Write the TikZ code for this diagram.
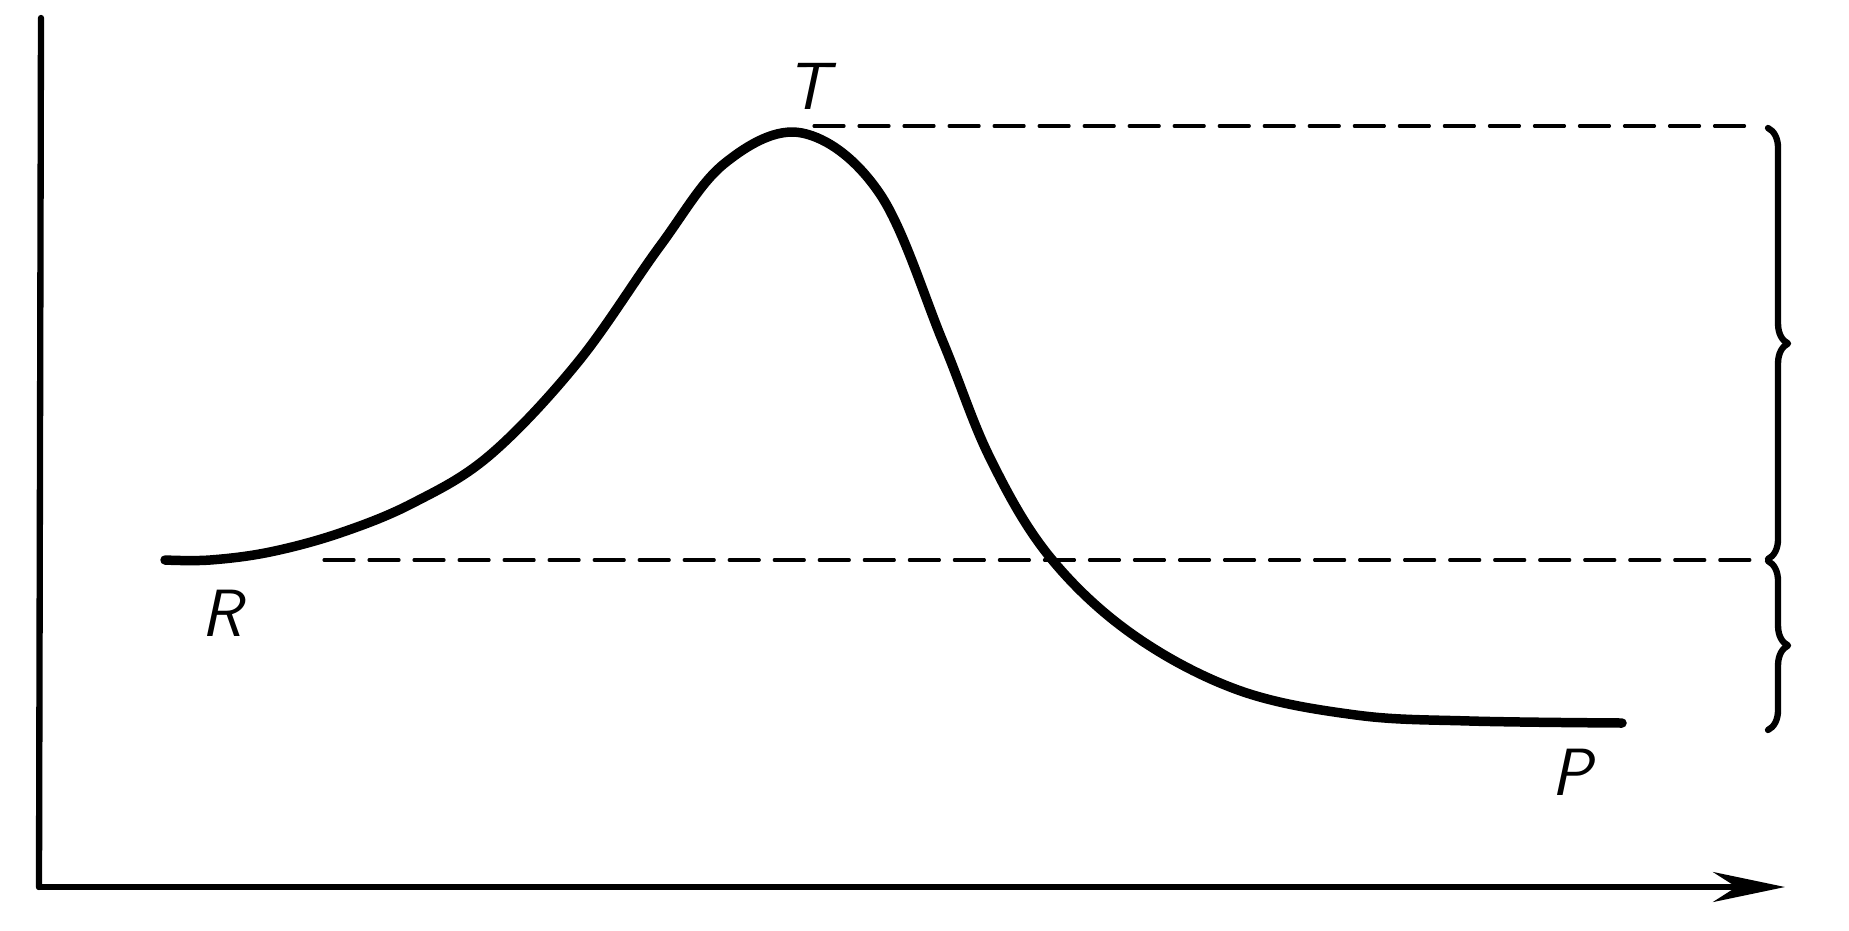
\documentclass[tikz,border=0pt]{standalone}
\usepackage{amsmath}
\usepackage{tikz}
\usetikzlibrary{arrows.meta,decorations.pathreplacing}

\tikzset{
  lbl/.style={font=\fontsize{19}{21}\selectfont\sffamily\itshape},
  enline/.style={line width=2.7pt},
  guide/.style={line width=0.9pt,dash pattern=on 0.3cm off 0.15cm},
  brc/.style={line width=1.8pt,decorate,decoration={brace,amplitude=0.2cm}}
}

\begin{document}
\begin{tikzpicture}[line cap=round,line join=round,>={Stealth[length=0.72cm,width=0.3cm]},x=0.01cm,y=-0.01cm]
\useasboundingbox (0,0) rectangle (1849,930);
% axes
\coordinate (o) at (39,887);
\coordinate (ytop) at (41,18);
\coordinate (xend) at (1785,887);
\draw [line width=1.8pt] (ytop) -- (o);
\draw [line width=1.6pt,->] (o) -- (xend);
% energy profile
\coordinate (r) at (165,560);
\coordinate (t) at (802,133);
\coordinate (p) at (1622,723);
\draw [enline] plot [smooth,tension=0.6] coordinates {(r) (210,560) (270,552) (340,533) (413,503) (490,455) (578,362) (660,246) (725,163) (t) (880,194) (943,342) (990,458) (1049,556) (1132,634) (1238,690) (1356,715) (1470,721) (p)};
\draw (222,613) node[lbl] (R) {R};
\draw (808,86) node[lbl] (T) {T};
\draw (1572,772) node[lbl] (P) {P};
% levels
\coordinate (tl) at (814,126);
\coordinate (tr) at (1757,126);
\coordinate (rl) at (324,560);
\coordinate (rr) at (1755,560);
\draw [guide] (tl) -- (tr);
\draw [guide] (rl) -- (rr);
% braces
\coordinate (b1) at (1768,128);
\coordinate (b2) at (1768,559);
\coordinate (b3) at (1768,561);
\coordinate (b4) at (1768,730);
\draw [brc] (b1) -- (b2);
\draw [brc] (b3) -- (b4);
\end{tikzpicture}
\end{document}
